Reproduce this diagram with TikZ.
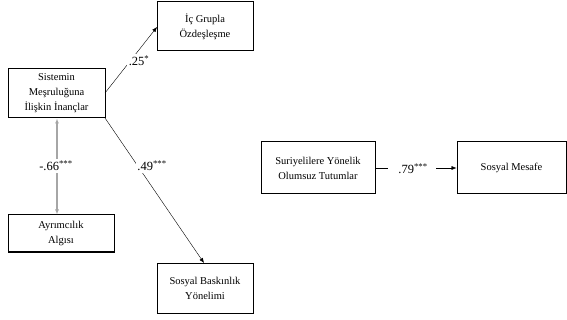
\documentclass[tikz,border=0pt]{standalone}
\usepackage{fontspec}
\setmainfont{Liberation Serif}
\usetikzlibrary{arrows.meta}
\begin{document}
\begin{tikzpicture}[x=1pt,y=-1pt,
  box/.style={draw,line width=1pt,align=center,font=\fontsize{10.5}{15}\selectfont,inner sep=0pt},
  lab/.style={fill=white,inner sep=1.5pt,font=\fontsize{12.5}{14}\selectfont},
  arr/.style={-{Latex[length=5pt,width=4pt]},line width=0.4pt},
  garr/.style={{Latex[length=5pt,width=4pt]}-{Latex[length=5pt,width=4pt]},line width=1.2pt,draw=black!35}]
\useasboundingbox (0,0) rectangle (567,320);
\node[box,minimum width=97pt,minimum height=49pt] (sis) at (56.5,93.5) {Sistemin\\Meşruluğuna\\İlişkin İnançlar};
\node[box,minimum width=96pt,minimum height=49pt] (ic) at (205,26.5) {İç Grupla\\Özdeşleşme};
\node[box,minimum width=106pt,minimum height=37pt] (ayr) at (61,233.5) {Ayrımcılık\\Algısı};
\node[box,minimum width=96pt,minimum height=50pt] (sby) at (205,288) {Sosyal Baskınlık\\Yönelimi};
\node[box,minimum width=114pt,minimum height=52pt] (sur) at (318,168) {Suriyelilere Yönelik\\Olumsuz Tutumlar};
\node[box,minimum width=109pt,minimum height=52pt] (sm) at (511.5,168) {Sosyal Mesafe};
\coordinate (s1) at (105,93);
\coordinate (s2) at (105,118);
\coordinate (i1) at (157,27);
\coordinate (b1) at (204,263);
\draw[arr] (s1) -- (i1);
\draw[arr] (s2) -- (b1);
\draw[garr] (57,118.5) -- (57,214.5);
\node[lab] (l25) at (139,61) {.25\textsuperscript{*}};
\node[lab] (l49) at (152,166) {.49\textsuperscript{***}};
\node[lab] (l66) at (56,166) {-.66\textsuperscript{***}};
\draw[line width=0.4pt] (sur.east) -- (388,168);
\draw[arr] (436,168) -- (sm.west);
\node[lab] (l79) at (413,169) {.79\textsuperscript{***}};
\end{tikzpicture}
\end{document}
